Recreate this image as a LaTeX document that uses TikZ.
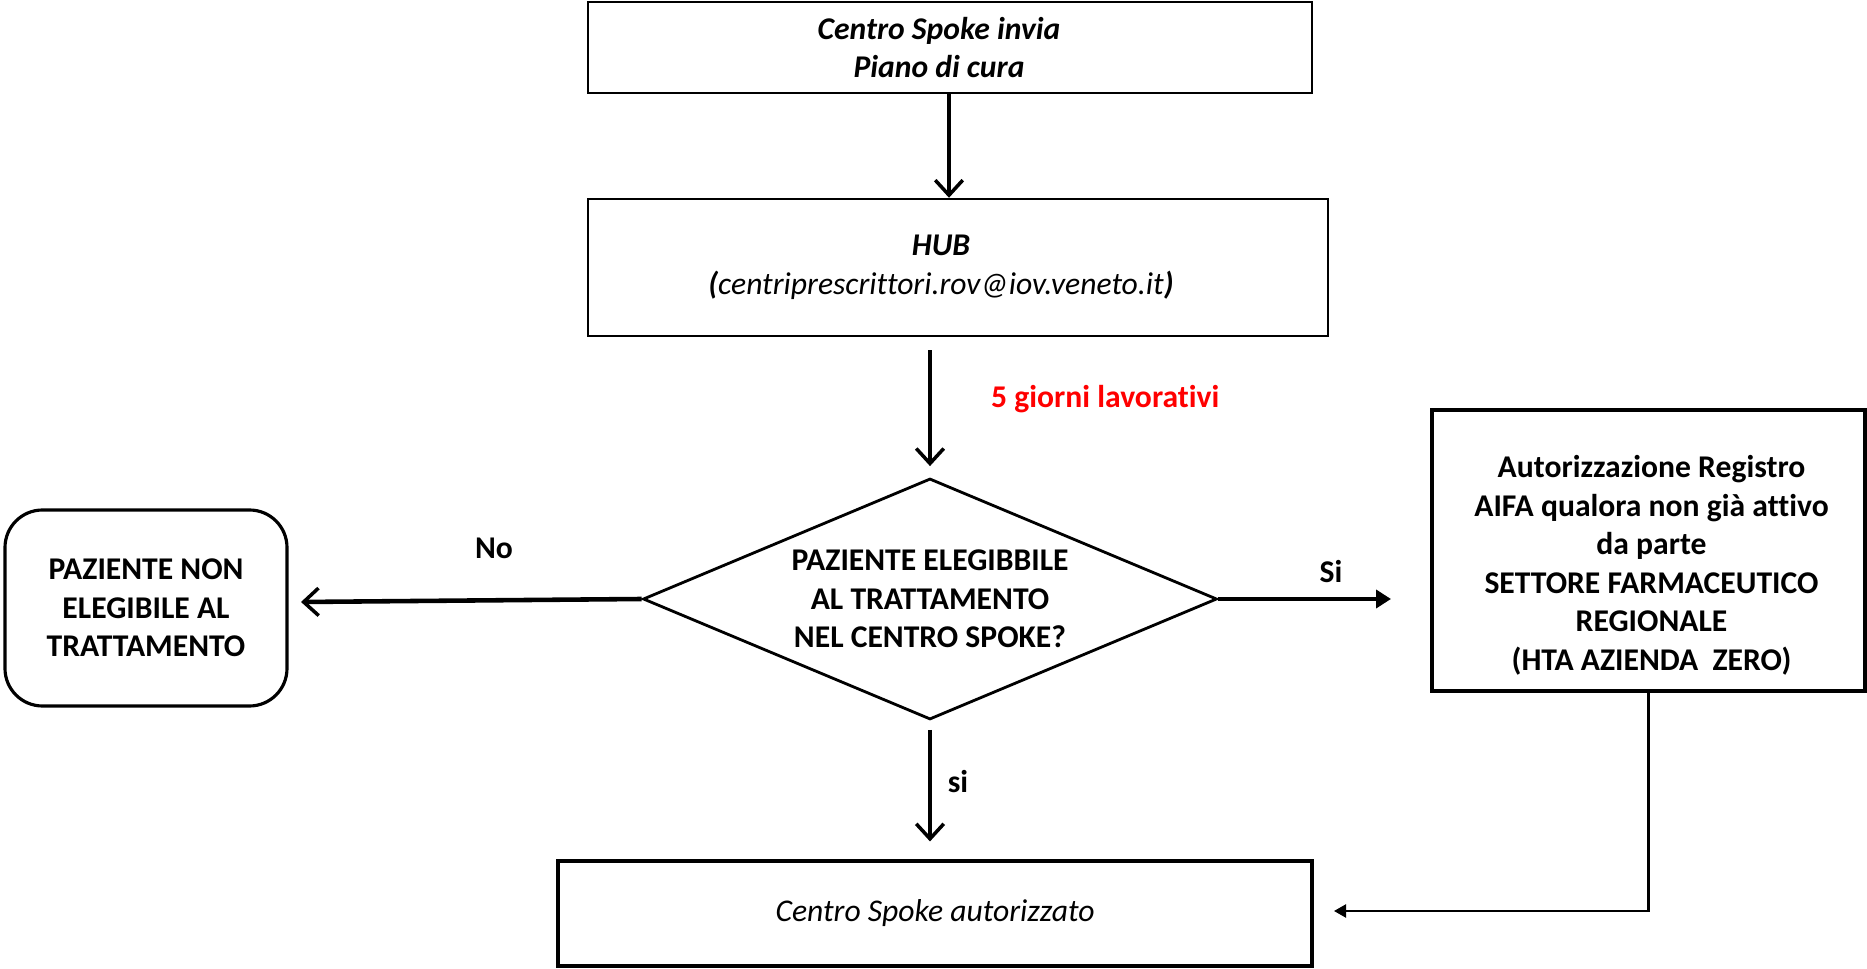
\documentclass[tikz,border=0pt]{standalone}
\usepackage{fontspec}
\setmainfont{Carlito}[Ligatures=NoCommon]
\usetikzlibrary{shapes.geometric,arrows.meta}
\tikzset{
  box/.style={draw, line width=1.4pt, align=center, inner sep=0pt},
  testo/.style={align=center, inner sep=0pt},
  freccia/.style={line width=2pt, -{Straight Barb[length=0.3cm,width=0.55cm,line width=2pt]}},
  etich/.style={font=\fontsize{18}{21.9}\selectfont\bfseries},
}
\begin{document}
\begin{tikzpicture}[font=\fontsize{18}{21.9}\selectfont]
\path (0,0) rectangle (37.34,-19.38); % bounding box

\node[box, minimum width=14.48cm, minimum height=1.82cm] (invia) at (19.0,-0.95) {};
\node[testo] (inviatesto) at ([xshift=-0.22cm]invia.center)
  {\textbf{\textit{Centro Spoke invia}}\\\textbf{\textit{Piano di cura}}};
\node[box, minimum width=14.8cm, minimum height=2.74cm] (hub) at (19.16,-5.35) {};
\node[testo] (hubtesto) at ([xshift=-0.34cm]hub.center)
  {\textbf{\textit{HUB}}\\\textbf{\textit{(}}\textit{centriprescrittori.rov@iov.veneto.it}\textbf{\textit{)}}};
\node[box, diamond, aspect=2.38, line width=1.6pt, minimum width=11.48cm, minimum height=4.82cm, font=\fontsize{18}{21.9}\selectfont\bfseries] (dec) at (18.6,-11.98)
  {PAZIENTE ELEGIBBILE\\AL TRATTAMENTO\\NEL CENTRO SPOKE?};
\node[box, rounded corners=0.75cm, line width=1.8pt, minimum width=5.64cm, minimum height=3.92cm, font=\fontsize{18}{21.9}\selectfont\bfseries] (noel) at (2.92,-12.16)
  {PAZIENTE NON\\ELEGIBILE AL\\TRATTAMENTO};
\node[box, line width=2pt, minimum width=8.66cm, minimum height=5.62cm] (aifa) at (32.97,-11.01) {};
\node[testo, font=\fontsize{18}{21.9}\selectfont\bfseries] (aifatesto) at ([xshift=0.06cm,yshift=-0.3cm]aifa.center)
  {Autorizzazione Registro\\AIFA qualora non già attivo\\da parte\\SETTORE FARMACEUTICO\\REGIONALE\\(HTA AZIENDA~~ZERO)};
\node[box, line width=1.8pt, minimum width=15.08cm, minimum height=2.1cm] (aut) at (18.7,-18.27)
  {\textit{Centro Spoke autorizzato}};

\coordinate (nofine) at (6.02,-12.04);
\coordinate (sifine) at (27.82,-11.98);
\coordinate (gomito) at (32.97,-18.22);
\coordinate (autfine) at (26.68,-18.22);

\draw[freccia] (invia.south -| 18.98,0) -- (hub.north -| 18.98,0);
\draw[freccia, shorten <=0.26cm, shorten >=0.22cm] (hub.south -| dec.north) -- (dec.north);
\draw[freccia, line width=2.6pt] (dec.west) -- (nofine);
\draw[line width=2.6pt, -{Triangle[length=0.3cm,width=0.36cm]}] (dec.east) -- (sifine);
\draw[freccia, shorten <=0.18cm, shorten >=0.36cm] (dec.south) -- (aut.north -| dec.south);
\draw[line width=1.2pt, -{Triangle[length=0.24cm,width=0.26cm]}] (aifa.south) -- (gomito) -- (autfine);

\node[etich, text=red, anchor=west] (giorni) at (19.7,-7.98) {5 giorni lavorativi};
\node[etich] (no) at (9.88,-10.96) {No};
\node[etich] (si) at (26.62,-11.44) {Si};
\node[etich] (si2) at (19.16,-15.64) {si};
\end{tikzpicture}
\end{document}
